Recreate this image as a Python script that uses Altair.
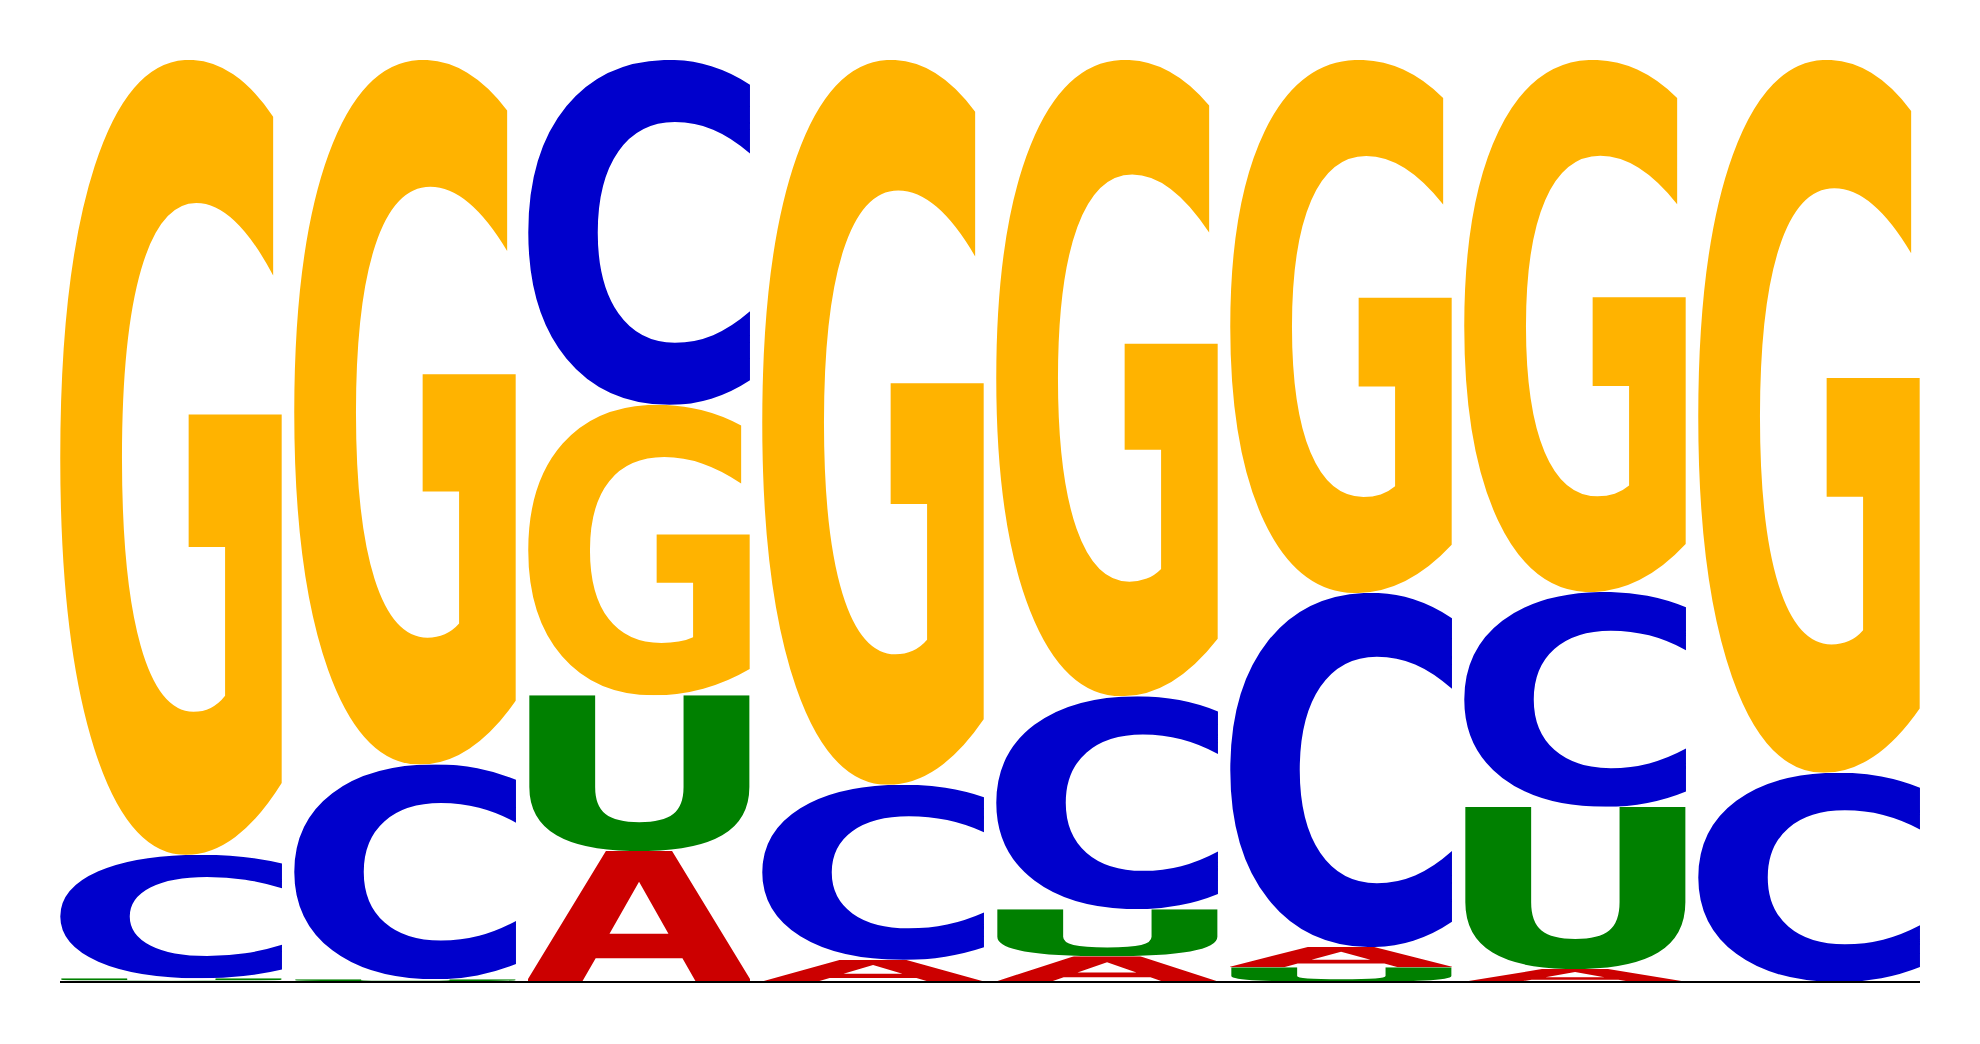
import base64
import altair as alt
import pandas as pd

# ---- data (letter frequencies per position) ----
positions = [1, 2, 3, 4, 5, 6, 7, 8]
prob_A = [0.0015, 0.001, 0.142, 0.024, 0.028, 0.022, 0.014, 0.0]
prob_C = [0.134, 0.233, 0.374, 0.190, 0.231, 0.384, 0.233, 0.227]
prob_G = [0.862, 0.764, 0.315, 0.786, 0.690, 0.578, 0.577, 0.773]
prob_U = [0.0025, 0.002, 0.169, 0.0, 0.051, 0.016, 0.176, 0.0]

letter_colors = {"A": "#CC0000", "C": "#0000CC", "G": "#FFB300", "U": "#008000"}

# approximate ink boxes of DejaVu Sans Bold glyphs at font-size 100 (x0, x1, ytop, ybottom)
glyph_box = {
    "A": (1.1, 76.3, -72.9, 0.0),
    "C": (4.9, 67.0, -74.2, 1.4),
    "G": (4.9, 74.8, -74.2, 1.4),
    "U": (8.8, 72.2, -72.9, 1.4),
}

LETTER_FRAC = 222 / 234  # letter width as a fraction of a column slot


def glyph_url(letter):
    x0, x1, y0, y1 = glyph_box[letter]
    w, h = x1 - x0, y1 - y0
    svg = (
        f'<svg xmlns="http://www.w3.org/2000/svg" width="{w:.2f}" height="{h:.2f}" '
        f'viewBox="{x0} {y0} {w:.2f} {h:.2f}" preserveAspectRatio="none">'
        f'<text x="0" y="0" font-family="DejaVu Sans" font-weight="bold" '
        f'font-size="100" fill="{letter_colors[letter]}">{letter}</text></svg>'
    )
    return "data:image/svg+xml;base64," + base64.b64encode(svg.encode()).decode()


rows = []
for i, pos in enumerate(positions):
    col = {"A": prob_A[i], "C": prob_C[i], "G": prob_G[i], "U": prob_U[i]}
    base = 0.0
    for letter, p in sorted(col.items(), key=lambda kv: kv[1]):
        if p <= 0:
            continue
        rows.append({
            "position": pos,
            "letter": letter,
            "prob": p,
            "x0": i,
            "x1": i + LETTER_FRAC,
            "y0": base,
            "y1": base + p,
            "url": glyph_url(letter),
        })
        base += p
df = pd.DataFrame(rows)

line_df = pd.DataFrame({"start": [0.0], "end": [len(positions) - 1 + LETTER_FRAC], "level": [0.0]})

xscale = alt.Scale(domain=[0, len(positions)], nice=False, zero=False)
yscale = alt.Scale(domain=[0, 1], nice=False)

letters = alt.Chart(df).mark_image(aspect=False).encode(
    x=alt.X("x0:Q", scale=xscale, axis=None),
    x2="x1:Q",
    y=alt.Y("y0:Q", scale=yscale, axis=None),
    y2="y1:Q",
    url="url:N",
)

baseline = alt.Chart(line_df).mark_rule(color="black", strokeWidth=2).encode(
    x=alt.X("start:Q", scale=xscale, axis=None),
    x2="end:Q",
    y=alt.Y("level:Q", scale=yscale, axis=None),
)

chart = (
    alt.layer(letters, baseline)
    .properties(
        width=1872,
        height=922,
        padding={"left": 52, "top": 52, "right": 20, "bottom": 20},
        autosize=alt.AutoSizeParams(type="none"),
        background="white",
    )
    .configure_view(stroke=None)
)

chart.save("out.html", embed_options={"renderer": "svg", "actions": False})
